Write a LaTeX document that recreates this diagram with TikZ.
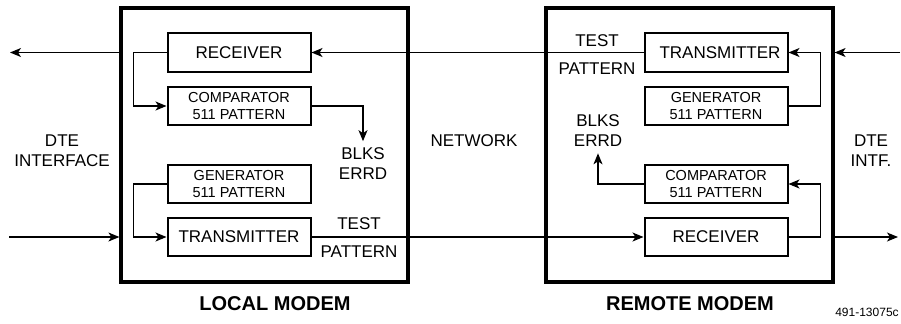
\documentclass[tikz,border=0pt]{standalone}
\usepackage{fontspec}
\setmainfont{Liberation Sans}
\usetikzlibrary{arrows.meta}

\newcommand{\blkfont}{\fontsize{8.5}{10}\selectfont}
\newcommand{\subfont}{\fontsize{7.25}{8.8}\selectfont}

\tikzset{
  modem/.style={draw, line width=1.6pt, minimum width=143.5pt, minimum height=137pt, inner sep=0pt},
  blk/.style={draw, line width=1pt, minimum width=71.5pt, minimum height=19.3pt, inner sep=0pt, align=center},
  lbl/.style={inner sep=3pt, align=center, font=\blkfont},
  conn/.style={line width=0.6pt, -{Stealth[length=5.5pt,width=4.5pt,inset=1.5pt]}}
}

\begin{document}
\begin{tikzpicture}[x=0.5pt,y=-0.5pt]
\useasboundingbox (0,0) rectangle (901,323);
% the two modems
\node[modem] (lmodem) at (264.5,145) {};
\node[modem] (rmodem) at (689.5,145) {};
% local modem
\node[blk,font=\blkfont] (lrx)  at (239,52.5) {RECEIVER};
\node[blk,font=\subfont] (lcmp) at (239,106)  {COMPARATOR\\511 PATTERN};
\node[blk,font=\subfont] (lgen) at (239,184)  {GENERATOR\\511 PATTERN};
\node[blk,font=\blkfont] (ltx)  at (239,237)  {TRANSMITTER};
\node[lbl] (lerr)  at (363,163.5) {BLKS\\ERRD};
\node[lbl] (ltest) at (359,224) {TEST};
\node[lbl] (lpat)  at (359,252) {PATTERN};
% remote modem
\node[blk,font=\blkfont] (rtx)  at (716,52.5) {\hspace{4pt}TRANSMITTER};
\node[blk,font=\subfont] (rgen) at (716,106)  {GENERATOR\\511 PATTERN};
\node[blk,font=\subfont] (rcmp) at (716,184)  {COMPARATOR\\511 PATTERN};
\node[blk,font=\blkfont] (rrx)  at (716,237)  {RECEIVER};
\node[lbl] (rerr)  at (598,131) {BLKS\\ERRD};
\node[lbl] (rtest) at (597,41) {TEST};
\node[lbl] (rpat)  at (597,69) {PATTERN};
% side labels
\node[lbl] (dtel) at (62,151) {DTE\\INTERFACE};
\node[lbl] (net)  at (474,141) {NETWORK};
\node[lbl] (dter) at (871,151) {DTE\\INTF.};
\node[font=\fontsize{10}{12}\selectfont\bfseries] (lname) at (275,304) {LOCAL MODEM};
\node[font=\fontsize{10}{12}\selectfont\bfseries] (rname) at (690,304) {REMOTE MODEM};
\node[font=\fontsize{6}{7}\selectfont] (tag) at (867,312) {491-13075c};
% free ends
\coordinate (dteLo) at (10,52.5);
\coordinate (dteLi) at (9,237);
\coordinate (dteRi) at (900,52.5);
\coordinate (dteRo) at (898,237);
% connectors
\draw[conn] (lmodem.west |- lrx) -- (dteLo);
\draw[conn] (dteLi) -- (lmodem.west |- ltx);
\draw[conn] (rtx.west) -- (lrx.east);
\draw[conn] (ltx.east) -- (rrx.west);
\draw[conn] (lrx.west) -- ++(-33,0) |- (lcmp.west);
\draw[conn] (lgen.west) -- ++(-33,0) |- (ltx.west);
\draw[conn] (lcmp.east) -| (lerr.north);
\draw[conn] (rgen.east) -- ++(32,0) |- (rtx.east);
\draw[conn] (rrx.east) -- ++(32,0) |- (rcmp.east);
\draw[conn] (rcmp.west) -| (rerr.south);
\draw[conn] (dteRi) -- (rmodem.east |- rtx);
\draw[conn] (rmodem.east |- rrx) -- (dteRo);
\end{tikzpicture}
\end{document}
